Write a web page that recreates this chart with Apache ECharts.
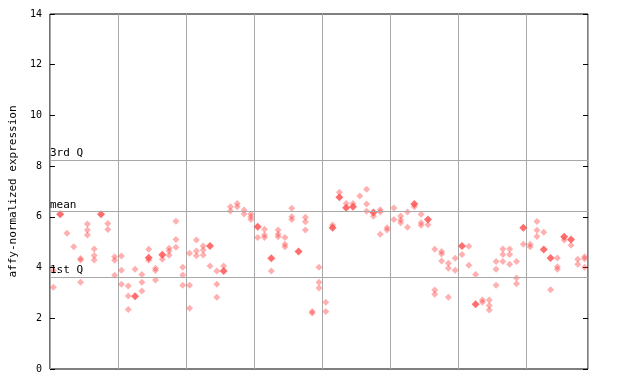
<!DOCTYPE html>
<html><head><meta charset="utf-8">
<script src="https://cdn.jsdelivr.net/npm/echarts@6/dist/echarts.min.js"></script>
<style>html,body{margin:0;padding:0;background:#fff}#c{width:640px;height:384px}</style>
</head><body><div id="c"></div>
<script>
const sampleCount = 79;
const yTicks = [0, 2, 4, 6, 8, 10, 12, 14];
const refLines = [{name: '3rd Q', value: 8.24}, {name: 'mean', value: 6.22}, {name: '1st Q', value: 3.63}];
const h1 = [3.88,null,5.35,4.82,4.36,5.72,4.73,null,5.74,4.43,
  4.46,3.27,3.93,3.73,4.72,3.97,4.33,4.76,5.83,4.01,
  4.56,5.09,4.85,4.06,3.86,4.06,6.4,6.53,6.27,6.11,
  5.19,5.51,3.86,5.48,5.19,6.34,null,5.98,2.27,4.01,
  2.63,5.68,6.97,6.53,6.53,6.82,7.09,6.02,6.28,5.57,
  6.35,6.03,6.19,6.4,6.1,5.69,4.72,4.63,4.17,4.37,
  4.52,4.84,3.73,2.72,2.72,4.24,4.73,4.73,4.24,4.92,
  4.92,5.82,5.39,3.13,4.38,5.09,4.88,4.33,4.43];
const h2 = [3.22,null,null,null,4.3,5.48,4.48,null,5.5,4.29,
  3.89,2.88,null,3.42,4.29,3.88,null,4.65,5.11,3.71,
  3.3,4.65,4.69,null,3.34,null,6.23,6.4,6.11,6.0,
  null,5.28,null,5.31,4.92,6.0,null,5.81,2.21,3.42,
  2.27,null,null,null,null,null,6.51,null,6.19,5.48,
  5.9,5.88,5.59,null,5.77,null,3.12,4.54,3.97,3.89,
  null,4.09,null,2.63,2.5,3.93,4.52,4.52,3.59,null,
  4.82,5.47,null,null,4.03,null,null,4.13,4.35];
const h3 = [null,null,null,null,3.42,5.28,4.3,null,null,3.7,
  3.34,2.35,null,3.08,null,3.51,null,4.49,4.8,3.3,
  2.4,4.47,4.5,null,2.83,null,null,null,null,5.9,
  null,5.19,null,5.22,4.82,5.9,null,5.48,null,3.19,
  null,null,null,null,null,null,6.22,null,5.31,null,
  null,5.77,null,null,5.67,null,2.95,4.26,2.83,null,
  null,null,null,null,2.33,3.3,4.24,4.13,3.36,null,
  null,5.23,null,null,3.93,null,null,null,4.01];
const solid = [null,6.1,null,null,null,null,null,6.1,null,null,
  null,null,2.87,null,4.39,null,4.51,null,null,null,
  null,null,null,4.85,null,3.86,null,null,null,null,
  5.61,null,4.37,null,null,null,4.63,null,null,null,
  null,5.57,6.77,6.36,6.4,null,null,6.17,null,null,
  null,null,null,6.51,null,5.9,null,null,null,null,
  4.85,null,2.55,null,null,null,null,null,null,5.57,
  null,null,4.71,4.38,null,5.22,5.11,null,null];

function pts(arr){const o=[];arr.forEach((v,i)=>{if(v!=null)o.push([i+0.5,v]);});return o;}
const hatched = pts(h1).concat(pts(h2), pts(h3));

const mono = 'DejaVu Sans Mono';
const chart = echarts.init(document.getElementById('c'), null, {renderer:'canvas'});
chart.setOption({
  animation:false,
  grid:{left:44,right:52,top:14,bottom:15,show:true,borderColor:'#000',borderWidth:1,backgroundColor:'transparent'},
  xAxis:{type:'value',min:0,max:sampleCount,interval:10,
    axisLine:{show:false},axisTick:{show:false},axisLabel:{show:false},
    splitLine:{show:true,lineStyle:{color:'#a8a8a8',width:1}}},
  yAxis:[{type:'value',min:0,max:14,interval:2,
    name:'affy-normalized expression',nameLocation:'middle',nameGap:28,
    nameTextStyle:{fontFamily:mono,fontSize:11,color:'#000'},
    axisLine:{show:false},axisTick:{show:true,inside:true,length:5,lineStyle:{color:'#000'}},
    axisLabel:{fontFamily:mono,fontSize:10,color:'#000',margin:8,
      formatter:v=>yTicks.includes(v)?String(v):''},
    splitLine:{show:false}},
   {type:'value',min:0,max:14,interval:2,position:'right',
    axisLine:{show:false},axisTick:{show:true,inside:true,length:5,lineStyle:{color:'#000'}},
    axisLabel:{show:false},splitLine:{show:false}}],
  series:[
    {type:'scatter',data:hatched,symbol:'diamond',symbolSize:[7,7],
      itemStyle:{color:'rgba(255,60,60,0.5)'},
      markLine:{silent:true,symbol:'none',
        lineStyle:{color:'#a8a8a8',width:1,type:'solid'},
        label:{show:true,position:'insideStartTop',distance:[0,1],formatter:p=>p.name,
          fontFamily:mono,fontSize:11,color:'#000',padding:0},
        data:refLines.map(r=>({name:r.name,yAxis:r.value}))}},
    {type:'scatter',data:pts(solid),symbol:'diamond',symbolSize:[8,8],
      itemStyle:{color:'#ff4a4a'}}
  ]
});
</script></body></html>
